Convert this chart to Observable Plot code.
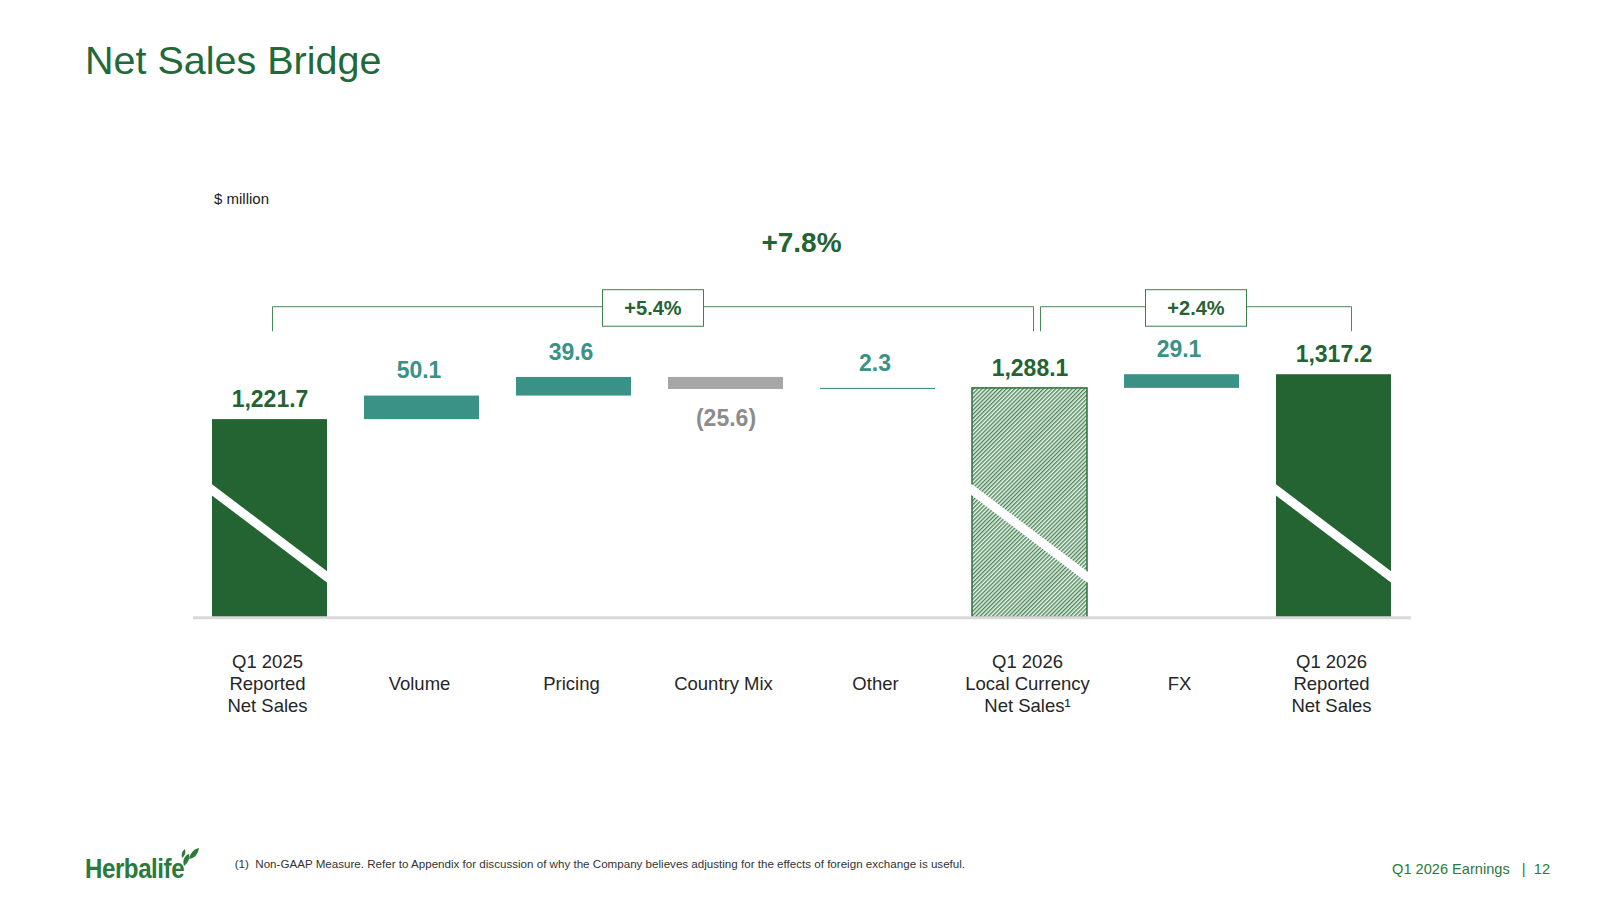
<!DOCTYPE html>
<html>
<head>
<meta charset="utf-8">
<script src="https://cdn.jsdelivr.net/npm/d3@7"></script>
<script src="https://cdn.jsdelivr.net/npm/@observablehq/plot@0.6"></script>
<style>
  html, body { margin: 0; padding: 0; background: #ffffff; }
  #page { position: relative; width: 1600px; height: 900px; overflow: hidden; font-family: "Liberation Sans", Arial, sans-serif; }
  .abs { position: absolute; line-height: 1; white-space: nowrap; }
  #chart { position: absolute; left: 0; top: 0; }
</style>
</head>
<body>
<svg width="0" height="0" style="position:absolute">
  <defs>
    <pattern id="hatch" width="2.9" height="2.9" patternUnits="userSpaceOnUse" patternTransform="rotate(45)">
      <rect width="2.9" height="2.9" fill="#eef4ef"></rect>
      <line x1="0.7" y1="0" x2="0.7" y2="2.9" stroke="#3f7f4d" stroke-width="1.3"></line>
    </pattern>
  </defs>
</svg>
<div id="page">
  <div id="chart"></div>
  <div class="abs" style="left:85px; top:41px; font-size:39.5px; color:#22693a;">Net Sales Bridge</div>
  <div class="abs" style="left:214px; top:190.7px; font-size:15px; color:#1a1a1a;">$ million</div>
  <div class="abs" style="left:234.7px; top:858px; font-size:11.6px; color:#333333;">(1)&nbsp;&nbsp;Non-GAAP Measure. Refer to Appendix for discussion of why the Company believes adjusting for the effects of foreign exchange is useful.</div>
  <div class="abs" style="right:50px; top:862px; font-size:14.6px; color:#2b7a3b;">Q1 2026 Earnings&nbsp;&nbsp;&nbsp;|&nbsp;&nbsp;12</div>
  <div class="abs" style="left:85px; top:855px; font-size:28px; font-weight:bold; color:#2b7a3b; transform:scaleX(0.86); transform-origin:left top; letter-spacing:-0.5px;">Herbalife</div>
  <svg class="abs" style="left:180px; top:846px;" width="20" height="22" viewBox="0 0 20 22">
    <path d="M4 20 C2 14 5 9 9 8 C10 13 8 17 4 20 Z" fill="#2b7a3b"></path>
    <path d="M9 13 C10 7 14 3 19 2 C18 8 15 12 9 13 Z" fill="#2b7a3b"></path>
    <path d="M2 12 C1 8 2 5 5 3 C6 7 5 10 2 12 Z" fill="#2b7a3b"></path>
  </svg>
</div>
<script>
// ---- data ----
const categories = [
  "Q1 2025\nReported\nNet Sales",
  "Volume",
  "Pricing",
  "Country Mix",
  "Other",
  "Q1 2026\nLocal Currency\nNet Sales¹",
  "FX",
  "Q1 2026\nReported\nNet Sales"
];
const values = [1221.7, 50.1, 39.6, -25.6, 2.3, 1288.1, 29.1, 1317.2];
const kinds = ["total", "delta", "delta", "delta", "delta", "subtotal", "delta", "total"];
const valueLabels = ["1,221.7", "50.1", "39.6", "(25.6)", "2.3", "1,288.1", "29.1", "1,317.2"];
const brackets = [
  {from: 0, to: 5, label: "+5.4%"},
  {from: 5, to: 7, label: "+2.4%"}
];
const totalChange = "+7.8%";

// ---- derived ----
const axisBase = 800;          // value at the (broken) baseline
const breakHigh = 1071, breakLow = 886;  // axis-break slash, in value units
const GREEN = "#246332", TEAL = "#3a9186", GREY = "#a6a6a6", GREYTXT = "#8c8c8c";

let run = 0;
const bars = categories.map((cat, i) => {
  const v = values[i], kind = kinds[i];
  let y1, y2;
  if (kind === "delta") { y1 = run; y2 = run + v; run += v; }
  else { y1 = axisBase; y2 = v; run = v; }
  const fill = kind === "total" ? GREEN : kind === "subtotal" ? "url(#hatch)" : v >= 0 ? TEAL : GREY;
  const stroke = kind === "subtotal" ? "#2f6f3d" : "none";
  const txt = kind === "delta" ? (v >= 0 ? TEAL : GREYTXT) : GREEN;
  return {cat, i, value: v, kind, label: valueLabels[i], y1, y2,
          top: Math.max(y1, y2), bottom: Math.min(y1, y2), fill, stroke, txt};
});

function annotations(index, scales) {
  const x = scales.x, y = scales.y;
  const bw = typeof x.bandwidth === "function" ? x.bandwidth() : x.bandwidth;
  const cx = c => x(c) + bw / 2;
  const g = d3.create("svg:g");
  // axis-break slashes on total bars
  bars.filter(d => d.kind !== "delta").forEach(d => {
    const x0 = x(d.cat), x1 = x0 + bw;
    const ya = y(breakHigh), yb = y(breakLow);
    const ex = 3, ey = ex * (yb - ya) / bw;
    g.append("line").attr("x1", x0 - ex).attr("y1", ya - ey).attr("x2", x1 + ex).attr("y2", yb + ey)
      .attr("stroke", "#ffffff").attr("stroke-width", 9);
  });
  // brackets
  const topY = y(d3.max(bars, d => d.top));
  const lineY = topY - 67.5, tickY = lineY + 24.5;
  const nudges = [[3, 4], [11, 18]];
  brackets.forEach((b, k) => {
    const xa = cx(categories[b.from]) + nudges[k][0];
    const xb = cx(categories[b.to]) + nudges[k][1];
    const mid = (xa + xb) / 2;
    g.append("path").attr("d", `M${xa},${tickY}V${lineY}H${xb}V${tickY}`)
      .attr("fill", "none").attr("stroke", "#4a8a56").attr("stroke-width", 1);
    g.append("rect").attr("x", mid - 50.5).attr("y", lineY - 17).attr("width", 101).attr("height", 36.5)
      .attr("fill", "#ffffff").attr("stroke", "#3d7f4a").attr("stroke-width", 1);
    g.append("text").attr("x", mid).attr("y", lineY + 1.3).attr("dy", "0.35em")
      .attr("text-anchor", "middle").attr("font-size", 20).attr("font-weight", "bold")
      .attr("fill", GREEN).text(b.label);
  });
  // overall change
  const xm = (cx(categories[0]) + cx(categories[categories.length - 1])) / 2;
  g.append("text").attr("x", xm).attr("y", lineY - 65).attr("dy", "0.35em")
    .attr("text-anchor", "middle").attr("font-size", 28).attr("font-weight", "bold")
    .attr("fill", GREEN).text(totalChange);
  return g.node();
}

const chart = Plot.plot({
  width: 1600,
  height: 760,
  marginLeft: 193,
  marginRight: 189,
  marginTop: 0,
  marginBottom: 0,
  style: {fontFamily: "'Liberation Sans', Arial, sans-serif", background: "transparent", overflow: "visible"},
  x: {domain: categories, paddingInner: 0.243, paddingOuter: 0.11, axis: null},
  y: {domain: [axisBase, 1350], range: [617.3, 617.3 - 550 * 0.47], axis: null},
  color: {type: "identity"},
  marks: [
    Plot.barY(bars, {x: "cat", y1: "y1", y2: "y2", fill: "fill", stroke: "stroke", strokeWidth: 1.5}),
    Plot.ruleY([axisBase], {stroke: "#d9d9d9", strokeWidth: 3}),
    annotations,
    Plot.text(bars.filter(d => d.kind !== "delta"), {x: "cat", y: "top", text: "label", dy: -20,
      fill: "txt", fontSize: 23, fontWeight: "bold"}),
    Plot.text(bars.filter(d => d.kind === "delta" && d.value >= 0), {x: "cat", y: "top", text: "label", dy: -25, dx: -3,
      fill: "txt", fontSize: 23, fontWeight: "bold"}),
    Plot.text(bars.filter(d => d.kind === "delta" && d.value < 0), {x: "cat", y: "bottom", text: "label", dy: 29,
      fill: "txt", fontSize: 23, fontWeight: "bold"}),
    Plot.text(bars, {x: "cat", y: () => axisBase, text: "cat", dy: 65.3, dx: -2.5, fontSize: 18.5, lineHeight: 1.19,
      fill: "#262626", lineAnchor: "middle"})
  ]
});
document.getElementById("chart").appendChild(chart);
</script>
</body>
</html>
